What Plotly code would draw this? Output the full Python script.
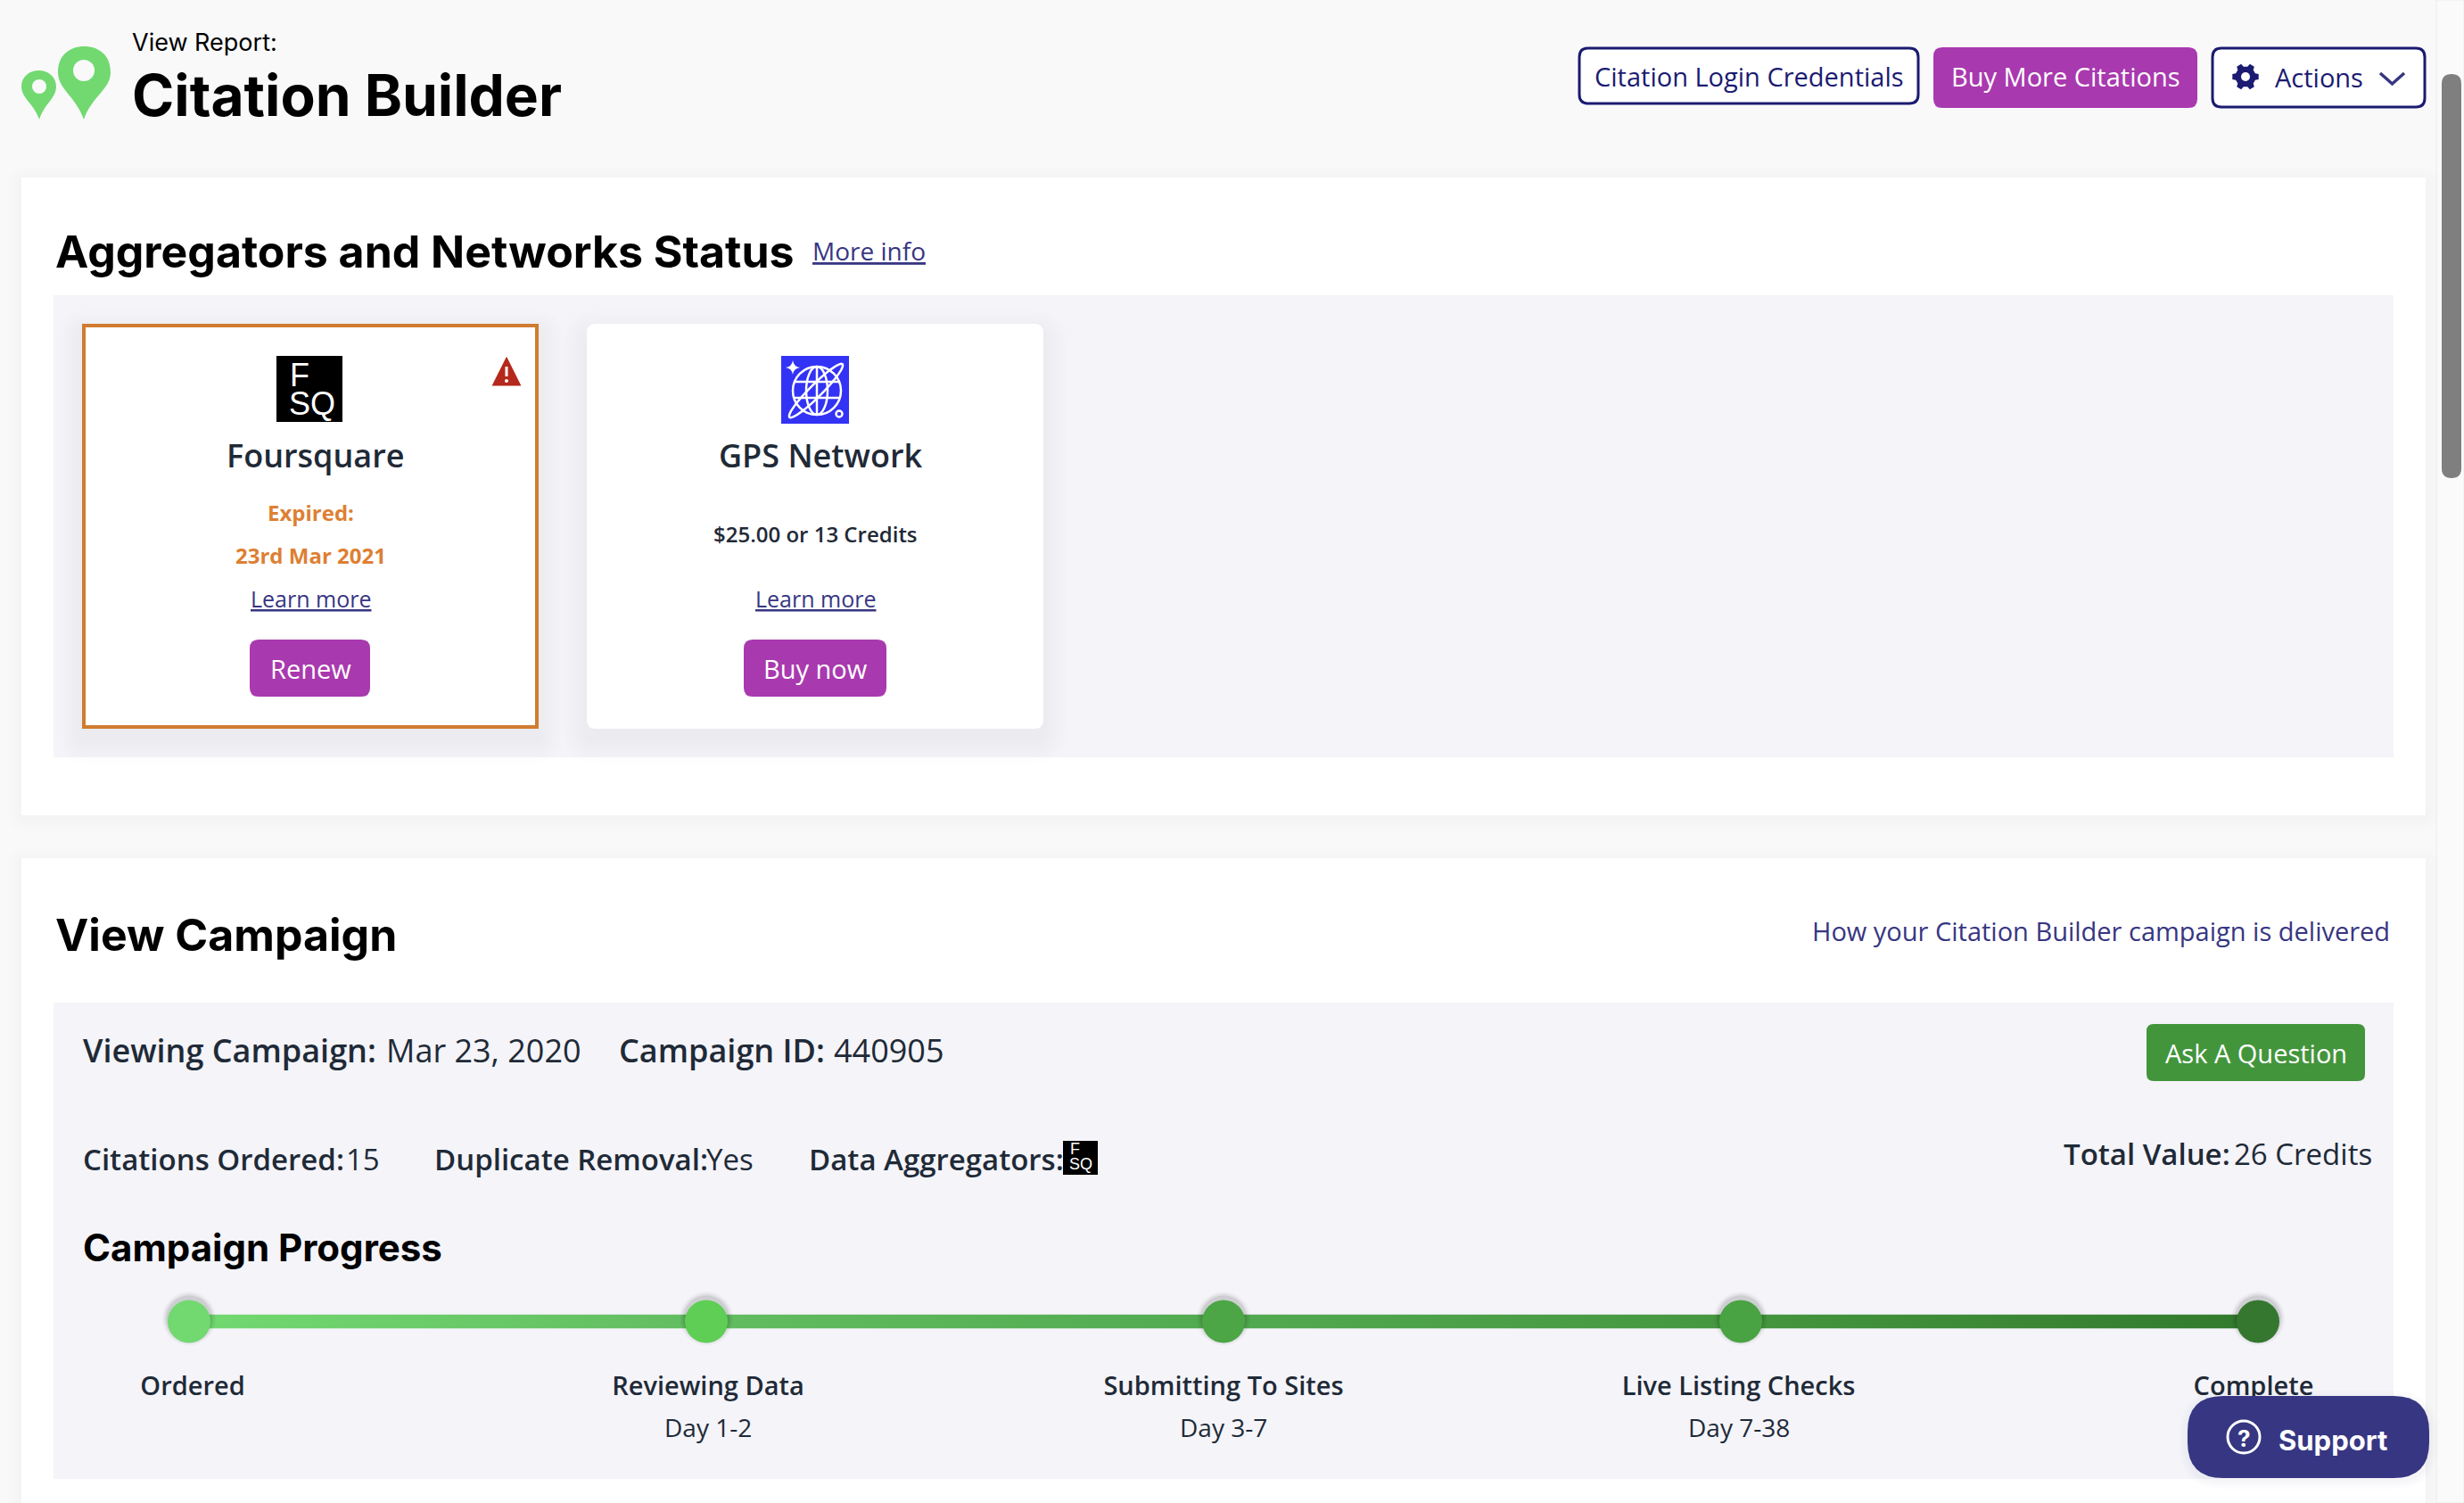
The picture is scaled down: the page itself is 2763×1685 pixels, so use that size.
import math
import plotly.graph_objects as go

W, H = 2763, 1685

# ----------------------------------- Chart data -----------------------------------
steps = ["Ordered", "Reviewing Data", "Submitting To Sites", "Live Listing Checks", "Complete"]
step_days = ["", "Day 1-2", "Day 3-7", "Day 7-38", ""]
step_order = [0, 1, 2, 3, 4]
label_nudge_px = [4, 2, 0, -2.5, -5]

NAVY = "#373682"
DARK_NAVY = "#1B1B72"
PURPLE = "#A939AF"
INK = "#1F2A37"
ORANGE = "#DE7F33"
PANEL = "#F4F4F9"
step_colors = ["#72D971", "#5ECE54", "#4CA646", "#4AA343", "#35772F"]
track_colors = ["#72D971", "#62BC60", "#52AA50", "#45963F", "#327A2D"]

SANS = "Open Sans"
HEAD = "Inter"

shapes = []
notes = []


# ----------------------------------- Helpers --------------------------------------
def round_path(x0, y0, x1, y1, r):
    return (f"M {x0+r} {y0} L {x1-r} {y0} Q {x1} {y0} {x1} {y0+r} L {x1} {y1-r} "
            f"Q {x1} {y1} {x1-r} {y1} L {x0+r} {y1} Q {x0} {y1} {x0} {y1-r} "
            f"L {x0} {y0+r} Q {x0} {y0} {x0+r} {y0} Z")


def box(x0, y0, x1, y1, fill, r=0, line=None, lw=0, layer="below"):
    shapes.append(dict(type="path", path=round_path(x0, y0, x1, y1, r), xref="x", yref="y",
                       fillcolor=fill, layer=layer,
                       line=dict(color=line or fill, width=lw)))


def shadow(x0, y0, x1, y1, r, spread=30, dy=10, alpha=0.006, layer="below"):
    for i in range(spread, 0, -3):
        box(x0 - i, y0 - i + dy, x1 + i, y1 + i + dy, f"rgba(40,40,60,{alpha})", r + i, layer=layer)


def path(d, fill="rgba(0,0,0,0)", line=None, lw=0, layer="below"):
    shapes.append(dict(type="path", path=d, xref="x", yref="y", fillcolor=fill, layer=layer,
                       line=dict(color=line or "rgba(0,0,0,0)", width=lw)))


def disc(cx, cy, rx, ry=None, fill="rgba(0,0,0,0)", line=None, lw=0, layer="below"):
    ry = ry or rx
    shapes.append(dict(type="circle", x0=cx-rx, x1=cx+rx, y0=cy-ry, y1=cy+ry, xref="x", yref="y",
                       fillcolor=fill, layer=layer,
                       line=dict(color=line or "rgba(0,0,0,0)", width=lw)))


def txt(x, y, s, size, color=INK, weight=400, anchor="left", family=SANS):
    notes.append(dict(x=x, y=y, xref="x", yref="y", text=s, showarrow=False, xanchor=anchor,
                      yanchor="middle", align=anchor,
                      font=dict(family=family, size=size, color=color, weight=weight)))


# ----------------------------------- Page frame -----------------------------------
box(2732, 0, W, H, "#FAFAFA", line="#ECECEC", lw=1)
box(2738, 83, 2760, 536, "#7F7F7F", r=11)

shadow(24, 199, 2720, 914, 2, spread=15, dy=3, alpha=0.004)
box(24, 199, 2720, 914, "#FFFFFF")
shadow(24, 962, 2720, 1700, 2, spread=15, dy=3, alpha=0.004)
box(24, 962, 2720, 1700, "#FFFFFF")
box(60, 331, 2684, 849, PANEL)
box(60, 1124, 2684, 1658, PANEL)

# ----------------------------------- Header ---------------------------------------
path("M 94 134 C 85 108 65 100 65 81 C 65 62 78 52 94.5 52 C 111 52 124 62 124 81 "
     "C 124 100 103 108 94 134 Z", fill="#72D971")
disc(94, 79, 12, fill="#F9F9FA")
path("M 44 134 C 38 116 24 110 24 97 C 24 86 33 79 43.5 79 C 54 79 63 86 63 97 "
     "C 63 110 50 116 44 134 Z", fill="#72D971")
disc(44, 97, 8, fill="#F9F9FA")
txt(146, 47, "View Report:", 27, "#000000", 400, family=HEAD)
txt(146, 106, "Citation Builder", 64, "#000000", 700, family=HEAD)

box(1771, 54, 2151, 116, "#FFFFFF", r=10, line=DARK_NAVY, lw=3)
txt(1961, 85, "Citation Login Credentials", 29, DARK_NAVY, anchor="center")
box(2168, 53, 2464, 121, PURPLE, r=10)
txt(2316, 85, "Buy More Citations", 29, "#FFFFFF", anchor="center")
box(2481, 54, 2719, 120, "#FFFFFF", r=10, line=DARK_NAVY, lw=3)

# gear icon
gear = []
for k in range(6):
    a = math.radians(60 * k)
    for da, rad in [(-19, 11.5), (-11, 15), (11, 15), (19, 11.5)]:
        t = a + math.radians(da)
        gear.append((2518 + rad * math.cos(t), 86 + rad * math.sin(t)))
path("M " + " L ".join(f"{px:.1f} {py:.1f}" for px, py in gear) + " Z", fill=DARK_NAVY)
disc(2518, 86, 5, fill="#FFFFFF")
txt(2549, 86, "Actions", 29, DARK_NAVY)
path("M 2669 82 L 2682.5 94 L 2696 82", line=NAVY, lw=3.5)

# ----------------------------------- Aggregators ----------------------------------
txt(60, 282, "Aggregators and Networks Status", 50, "#000000", 700, family=HEAD)
txt(909, 281, "<u>More info</u>", 28, NAVY)

shadow(92, 363, 604, 817, 2, spread=27, dy=12, alpha=0.005)
box(94, 365, 602, 815, "#FFFFFF", line="#D07C30", lw=4)
shadow(658, 363, 1170, 817, 10, spread=27, dy=12, alpha=0.005)
box(658, 363, 1170, 817, "#FFFFFF", r=10)

# foursquare logo
box(310, 399, 384, 473, "#000000")
txt(323, 420, "F", 36, "#FFFFFF", family="Liberation Sans")
txt(322, 452, "SQ", 36, "#FFFFFF", family="Liberation Sans")

# warning triangle
path("M 568 403 L 582 431 L 554 431 Z", fill="#B5281C", line="#B5281C", lw=3)
box(566.5, 411, 569.5, 422, "#FFFFFF")
disc(568, 427, 2, fill="#FFFFFF")

txt(354, 510, "Foursquare", 36, INK, 600, anchor="center")
txt(348, 574, "Expired:", 24, ORANGE, 700, anchor="center")
txt(348, 622, "23rd Mar 2021", 24, ORANGE, 700, anchor="center")
txt(348, 671, "<u>Learn more</u>", 25, NAVY, anchor="center")
box(280, 717, 415, 781, PURPLE, r=10)
txt(348, 749, "Renew", 29, "#FFFFFF", anchor="center")

# globe logo
box(876, 399, 952, 475, "#3333F5")
WHITE = "#FFFFFF"
disc(916, 438, 27, line=WHITE, lw=2.5)
disc(916, 438, 12, 27, line=WHITE, lw=2.5)
path("M 916 411 L 916 465", line=WHITE, lw=2.5)
path("M 890 428 L 942 428", line=WHITE, lw=2.5)
path("M 890 446 L 942 446", line=WHITE, lw=2.5)
orbit = []
for k in range(36):
    t = math.radians(10 * k)
    ex, ey = 42 * math.cos(t), 7 * math.sin(t)
    c, s = math.cos(math.radians(-45)), math.sin(math.radians(-45))
    orbit.append((915 + ex * c - ey * s, 438 + ex * s + ey * c))
path("M " + " L ".join(f"{px:.1f} {py:.1f}" for px, py in orbit) + " Z", line=WHITE, lw=2.5)
path("M 889 404 Q 890 411 897 412 Q 890 413 889 420 Q 888 413 881 412 Q 888 411 889 404 Z", fill=WHITE)
disc(941, 464, 3.5, line=WHITE, lw=2.5)

txt(920, 510, "GPS Network", 36, INK, 600, anchor="center")
txt(914, 598, "$25.00 or 13 Credits", 24, INK, 600, anchor="center")
txt(914, 671, "<u>Learn more</u>", 25, NAVY, anchor="center")
box(834, 717, 994, 781, PURPLE, r=10)
txt(914, 749, "Buy now", 29, "#FFFFFF", anchor="center")

# ----------------------------------- Campaign -------------------------------------
txt(60, 1048, "View Campaign", 50, "#000000", 700, family=HEAD)
txt(2682, 1043, "How your Citation Builder campaign is delivered", 29, NAVY, anchor="right")

txt(91, 1177, "Viewing Campaign:", 36, INK, 600)
txt(431, 1177, "Mar 23, 2020", 36, INK)
txt(692, 1177, "Campaign ID:", 36, INK, 600)
txt(933, 1177, "440905", 36, INK)
box(2407, 1148, 2652, 1212, "#43953C", r=8)
txt(2530, 1180, "Ask A Question", 29, "#FFFFFF", anchor="center")

txt(91, 1299, "Citations Ordered:", 33, INK, 600)
txt(386, 1299, "15", 33, INK)
txt(485, 1299, "Duplicate Removal:", 33, INK, 600)
txt(790, 1299, "Yes", 33, INK)
txt(905, 1299, "Data Aggregators:", 33, INK, 600)
box(1192, 1279, 1231, 1317, "#000000")
txt(1198, 1288, "F", 18, "#FFFFFF", family="Liberation Sans")
txt(1197, 1305, "SQ", 18, "#FFFFFF", family="Liberation Sans")
txt(2312, 1293, "Total Value:", 33, INK, 600)
txt(2503, 1293, "26 Credits", 33, INK)

txt(91, 1398, "Campaign Progress", 42, "#000000", 700, family=HEAD)

for order, day, nudge in zip(step_order, step_days, label_nudge_px):
    if day:
        notes.append(dict(x=order, y=1600, xref="x2", yref="y", text=day, showarrow=False,
                          xshift=nudge, xanchor="center", yanchor="middle",
                          font=dict(family=SANS, size=28, color=INK)))

# ----------------------------------- Support button -------------------------------
shadow(2453, 1565, 2724, 1657, 40, spread=9, dy=3, alpha=0.01, layer="above")
box(2453, 1565, 2724, 1657, NAVY, r=40, layer="above")
disc(2516, 1611, 18, line="#FFFFFF", lw=3, layer="above")
txt(2516, 1612, "?", 26, "#FFFFFF", 700, anchor="center", family=HEAD)
txt(2553, 1614, "Support", 31, "#FFFFFF", 700, family=HEAD)

# ----------------------------------- Progress track -------------------------------
fig = go.Figure()

# invisible pixel-sized base subplot that holds the page furniture
fig.add_trace(go.Scatter(x=[0, W], y=[0, H], mode="none", hoverinfo="skip", xaxis="x", yaxis="y"))

first, last = step_order[0], step_order[-1]
fig.add_trace(go.Scatter(
    x=[first, last, last, first], y=[-1, -1, 1, 1],
    mode="none", fill="toself", xaxis="x2", yaxis="y2", hoverinfo="skip",
    fillgradient=dict(type="horizontal", colorscale=[
        [i / (len(track_colors) - 1), c] for i, c in enumerate(track_colors)
    ]),
))
for size, alpha in [(60, 0.03), (56, 0.05), (52, 0.08)]:
    fig.add_trace(go.Scatter(
        x=step_order, y=[0.4] * len(step_order), mode="markers", xaxis="x2", yaxis="y2",
        cliponaxis=False, hoverinfo="skip",
        marker=dict(size=size, color=f"rgba(0,0,0,{alpha})", line=dict(width=0)),
    ))
fig.add_trace(go.Scatter(
    x=step_order, y=[0] * len(step_order), mode="markers", xaxis="x2", yaxis="y2",
    cliponaxis=False, hoverinfo="skip",
    marker=dict(size=48, color=step_colors, line=dict(width=0)),
))

tick_pos = [o + n / 580 for o, n in zip(step_order, label_nudge_px)]
fig.update_layout(
    width=W, height=H, margin=dict(l=0, r=0, t=0, b=0, pad=0), autosize=False,
    paper_bgcolor="#F9F9FA", plot_bgcolor="rgba(0,0,0,0)", showlegend=False,
    shapes=shapes, annotations=notes, hovermode=False,
    xaxis=dict(range=[0, W], visible=False, domain=[0, 1], fixedrange=True, automargin=False),
    yaxis=dict(range=[H, 0], visible=False, domain=[0, 1], fixedrange=True, automargin=False),
    xaxis2=dict(
        range=[first, last], domain=[212 / W, 2532 / W], anchor="y2", automargin=False,
        showgrid=False, zeroline=False, showline=False, fixedrange=True,
        tickmode="array", tickvals=tick_pos, ticktext=steps, tickangle=0,
        ticks="outside", ticklen=39, tickcolor="rgba(0,0,0,0)",
        tickfont=dict(family=SANS, size=29, color=INK, weight=600),
    ),
    yaxis2=dict(
        range=[-1, 1], domain=[1 - 1489.5 / H, 1 - 1473.5 / H], anchor="x2",
        visible=False, fixedrange=True, automargin=False,
    ),
)

fig.write_html("out.html", config={"displayModeBar": False},
               post_script="document.body.style.margin='0';document.body.style.overflow='hidden';")
